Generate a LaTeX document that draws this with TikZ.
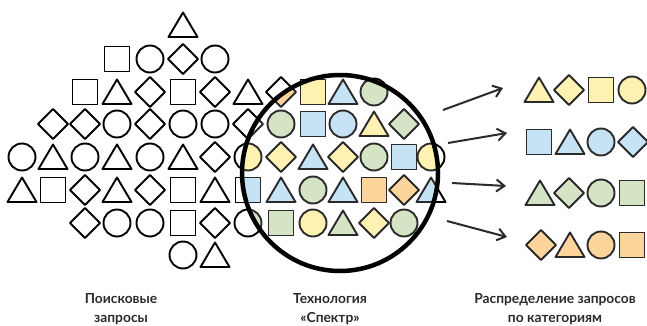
\documentclass[tikz,border=0pt]{standalone}
\usepackage{fontspec}
\setmainfont{Lato}
\usetikzlibrary{arrows.meta}
\definecolor{yel}{HTML}{FFF1B2}
\definecolor{blu}{HTML}{C6E3F6}
\definecolor{grn}{HTML}{D4E4C4}
\definecolor{ora}{HTML}{FDD49C}
\definecolor{ink}{HTML}{2A2A2A}
\tikzset{
  sq/.pic={\path[pic actions] (-12.5,-12.5) rectangle (12.5,12.5);},
  ci/.pic={\path[pic actions] (0,0) circle[radius=13.5];},
  di/.pic={\path[pic actions] (0,-15) -- (15,0) -- (0,15) -- (-15,0) -- cycle;},
  tr/.pic={\path[pic actions] (0,-12.5) -- (14.5,12) -- (-14.5,12) -- cycle;},
  plain/.style={draw=black,line width=1.9pt,line join=round,fill=white},
  tinted/.style={draw=ink,line width=1.9pt,line join=round},
  flow/.style={line width=2pt,draw=ink,-{Straight Barb[length=8pt,width=12pt]}},
  caption/.style={align=center,font=\bfseries\fontsize{13.8}{19.5}\selectfont,text=ink}
}
% query grid: x / y / shape / colour seen through the lens
\def\querygrid{
183/25/tr/white,
117/59/sq/white, 150/59/ci/white, 183/59/di/white, 215/59/ci/white,
85/92/sq/white, 117/92/tr/white, 150/92/di/white, 183/92/sq/white, 215/92/di/white, 248/92/tr/white, 281/92/di/ora, 313/92/sq/yel, 343/92/tr/blu, 374/92/ci/grn,
53/124/di/white, 85/124/di/white, 117/124/ci/white, 150/124/di/white, 183/124/ci/white, 215/124/ci/white, 248/124/di/white, 281/124/ci/grn, 313/124/sq/blu, 343/124/ci/blu, 374/124/tr/yel, 404/124/di/grn,
22/157/ci/white, 53/157/tr/white, 85/157/ci/white, 117/157/tr/white, 150/157/ci/white, 183/157/tr/white, 215/157/di/white, 248/157/ci/yel, 281/157/di/yel, 313/157/tr/blu, 343/157/di/yel, 374/157/ci/grn, 404/157/sq/blu, 431/157/ci/yel,
22/190/tr/white, 53/190/sq/white, 85/190/di/white, 117/190/tr/white, 150/190/di/white, 183/190/sq/white, 215/190/tr/white, 248/190/sq/blu, 281/190/tr/blu, 313/190/ci/grn, 343/190/tr/blu, 374/190/sq/ora, 404/190/di/ora, 431/190/tr/blu,
85/223/di/white, 117/223/ci/white, 150/223/ci/white, 183/223/sq/white, 215/223/di/white, 248/223/ci/grn, 281/223/sq/grn, 313/223/ci/yel, 343/223/tr/grn, 374/223/di/yel, 404/223/ci/grn,
183/255/ci/white, 215/255/tr/white}
% sorted categories: x / y / shape / colour
\def\sortedgrid{
539/90/tr/yel, 569/90/di/yel, 601/90/sq/yel, 632/90/ci/yel,
539/142/sq/blu, 570/142/tr/blu, 601/142/ci/blu, 633/142/di/blu,
540/193/tr/grn, 569/193/di/grn, 601/193/ci/grn, 632/193/sq/grn,
541/245/di/ora, 570/245/tr/ora, 601/245/ci/ora, 632/245/sq/ora}
\begin{document}
\begin{tikzpicture}[x=1pt,y=-1pt]
\useasboundingbox (0,0) rectangle (647,326);
% raw queries
\foreach \px/\py/\shp/\col in \querygrid
  \pic[plain] at (\px,\py) {\shp};
% the lens shows the colours
\coordinate (lens) at (340,173);
\begin{scope}
  \clip (lens) circle[radius=98];
  \fill[white] (lens) circle[radius=98];
  \foreach \px/\py/\shp/\col in \querygrid
    \pic[tinted,fill=\col] at (\px,\py) {\shp};
\end{scope}
\draw[line width=4.5pt] (lens) circle[radius=98];
% categories
\foreach \px/\py/\shp/\col in \sortedgrid
  \pic[tinted,fill=\col] at (\px,\py) {\shp};
% arrows
\coordinate (s1) at (443,110); \coordinate (e1) at (503,88);
\coordinate (s2) at (448,143); \coordinate (e2) at (507,133);
\coordinate (s3) at (452,183); \coordinate (e3) at (506,186);
\coordinate (s4) at (447,221); \coordinate (e4) at (507,237);
\draw[flow] (s1) -- (e1);
\draw[flow] (s2) -- (e2);
\draw[flow] (s3) -- (e3);
\draw[flow] (s4) -- (e4);
% captions
\node[caption] (cap1) at (121,309) {Поисковые\\запросы};
\node[caption] (cap2) at (330,309) {Технология\\«Спектр»};
\node[caption] (cap3) at (555,309) {Распределение запросов\\по категориям};
\end{tikzpicture}
\end{document}
